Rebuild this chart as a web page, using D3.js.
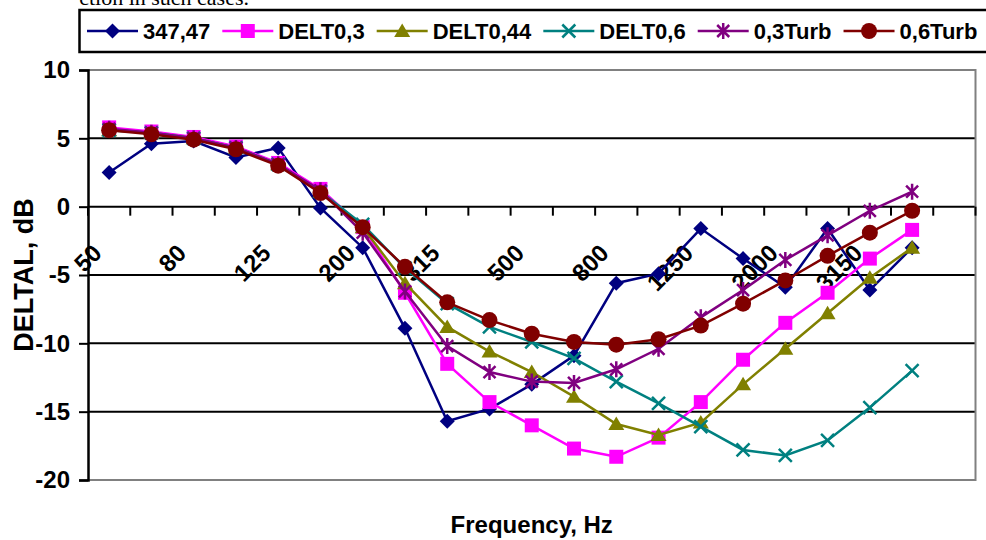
<!DOCTYPE html>
<html>
<head>
<meta charset="utf-8">
<script src="https://cdn.jsdelivr.net/npm/d3@7"></script>
<style>
  body { margin: 0; background: #fff; }
  text { font-family: "Liberation Sans", Arial, sans-serif; font-weight: bold; fill: #000; }
</style>
</head>
<body>
<div id="chartDiv"></div>
<script>
// Third octave bands (last band has no data)
var freqs = ['50', '63', '80', '100', '125', '160', '200', '250', '315', '400', '500',
             '630', '800', '1000', '1250', '1600', '2000', '2500', '3150', '4000', '5000'];
var tickLabels = ['50', '80', '125', '200', '315', '500', '800', '1250', '2000', '3150'];
var yTicks = [-20, -15, -10, -5, 0, 5, 10];

var seriesNames = ['347,47', 'DELT0,3', 'DELT0,44', 'DELT0,6', '0,3Turb', '0,6Turb'];
var s34747 = [2.5, 4.6, 4.8, 3.6, 4.3, -0.1, -3.0, -8.9, -15.7, -14.8, -13.0, -10.9, -5.6, -4.9, -1.6, -3.8, -5.9, -1.6, -6.1, -3.0];
var delt03 = [5.8, 5.5, 5.1, 4.4, 3.2, 1.3, -1.5, -6.3, -11.5, -14.3, -16.0, -17.7, -18.3, -16.9, -14.3, -11.2, -8.5, -6.3, -3.8, -1.7];
var delt044 = [5.6, 5.4, 5.0, 4.3, 3.1, 1.1, -1.5, -5.6, -8.8, -10.6, -12.1, -13.9, -15.9, -16.7, -15.8, -13.0, -10.4, -7.8, -5.2, -3.0];
var delt06 = [5.6, 5.4, 5.0, 4.3, 3.1, 1.1, -1.3, -4.5, -7.1, -8.8, -9.9, -11.1, -12.8, -14.4, -16.1, -17.8, -18.2, -17.1, -14.7, -12.0];
var turb03 = [5.7, 5.4, 5.0, 4.3, 3.1, 1.2, -1.9, -6.2, -10.2, -12.1, -12.8, -12.9, -11.9, -10.4, -8.1, -6.1, -3.9, -2.1, -0.3, 1.1];
var turb06 = [5.6, 5.3, 4.9, 4.2, 3.0, 1.0, -1.5, -4.4, -7.0, -8.3, -9.3, -9.9, -10.1, -9.7, -8.7, -7.1, -5.4, -3.6, -1.9, -0.3];

var colors = ['#000080', '#ff00ff', '#808000', '#008080', '#800080', '#800000'];
var markers = ['diamond', 'square', 'triangle', 'x', 'star', 'circle'];
var allValues = [s34747, delt03, delt044, delt06, turb03, turb06];

var chartWidth = 986;
var chartHeight = 540;
var plotLeft = 88, plotRight = 975.5, plotTop = 70, plotBottom = 480;

var svg = d3.select('#chartDiv')
            .append('svg')
            .attr('width', chartWidth)
            .attr('height', chartHeight);

var x = d3.scaleBand().domain(freqs).range([plotLeft, plotRight]).padding(0);
var y = d3.scaleLinear().domain([-20, 10]).range([plotBottom, plotTop]);
function cx(i) { return x(freqs[i]) + x.bandwidth() / 2; }

// clipped line of document text above the chart
svg.append('text')
   .attr('x', 249).attr('y', 5)
   .attr('text-anchor', 'end')
   .style('font-family', '"Liberation Serif", "Times New Roman", serif')
   .style('font-weight', 'normal')
   .style('font-size', '22px')
   .text('ction in such cases.');

// gridlines
svg.selectAll('.grid')
   .data(yTicks.filter(function(d) { return d > -20 && d < 10; }))
   .enter()
   .append('line')
   .attr('x1', plotLeft).attr('x2', plotRight)
   .attr('y1', function(d) { return y(d); })
   .attr('y2', function(d) { return y(d); })
   .attr('stroke', '#000')
   .attr('stroke-width', 2);

// plot border (top, right, bottom) in grey
svg.append('path')
   .attr('d', 'M' + plotLeft + ',' + y(10) + 'H' + plotRight + 'V' + y(-20) + 'H' + plotLeft)
   .attr('fill', 'none')
   .attr('stroke', '#808080')
   .attr('stroke-width', 2);

// y axis
var yAxis = svg.append('g')
   .attr('transform', 'translate(' + plotLeft + ',0)')
   .call(d3.axisLeft(y).tickValues(yTicks).tickSize(9).tickPadding(9)
           .tickFormat(function(d) { return String(d); }));
yAxis.select('.domain').attr('stroke', '#000').attr('stroke-width', 2.5);
yAxis.selectAll('.tick line').attr('stroke', '#000').attr('stroke-width', 2);
yAxis.selectAll('.tick text')
     .style('font-size', '24px')
     .style('font-family', '"Liberation Sans", Arial, sans-serif')
     .style('font-weight', 'bold')
     .attr('fill', '#000');

// x axis at y = 0, ticks between categories
var y0 = y(0);
var boundaries = freqs.map(function(f) { return x(f); }).concat([x.range()[1]]);
svg.selectAll('.xtick')
   .data(boundaries)
   .enter()
   .append('line')
   .attr('x1', function(d) { return d; }).attr('x2', function(d) { return d; })
   .attr('y1', y0).attr('y2', y0 + 9)
   .attr('stroke', '#000')
   .attr('stroke-width', 2);

svg.selectAll('.xlabel')
   .data(tickLabels)
   .enter()
   .append('text')
   .attr('text-anchor', 'end')
   .style('font-size', '24px')
   .attr('transform', function(d) {
     return 'translate(' + (x(d) + x.bandwidth() / 2 - 6) + ',' + (y0 + 48) + ') rotate(-45)';
   })
   .text(function(d) { return d; });

// axis titles
svg.append('text')
   .attr('text-anchor', 'middle')
   .attr('transform', 'translate(33,' + ((plotTop + plotBottom) / 2) + ') rotate(-90)')
   .style('font-size', '27px')
   .text('DELTAL, dB');

svg.append('text')
   .attr('text-anchor', 'middle')
   .attr('x', (plotLeft + plotRight) / 2)
   .attr('y', 533)
   .style('font-size', '24px')
   .text('Frequency, Hz');

// marker shapes
function markerPath(type) {
  if (type === 'diamond') return 'M0,-7.5L7.5,0L0,7.5L-7.5,0Z';
  if (type === 'square') return 'M-7,-7H7V7H-7Z';
  if (type === 'triangle') return 'M0,-7.5L8,6L-8,6Z';
  if (type === 'x') return 'M-6.5,-6.5L6.5,6.5M-6.5,6.5L6.5,-6.5';
  if (type === 'star') return 'M-6,-6L6,6M-6,6L6,-6M0,-8V8';
  return null;
}

function drawMarker(g, type, color) {
  if (type === 'circle') {
    g.append('circle').attr('r', 8).attr('fill', color);
  } else if (type === 'x' || type === 'star') {
    g.append('path').attr('d', markerPath(type)).attr('fill', 'none')
     .attr('stroke', color).attr('stroke-width', 2.5);
  } else {
    g.append('path').attr('d', markerPath(type)).attr('fill', color);
  }
}

var line = d3.line()
  .x(function(d, i) { return cx(i); })
  .y(function(d) { return y(d); });

allValues.forEach(function(vals, k) {
  var g = svg.append('g');
  g.append('path')
   .datum(vals)
   .attr('d', line)
   .attr('fill', 'none')
   .attr('stroke', colors[k])
   .attr('stroke-width', 2.5);
  vals.forEach(function(v, i) {
    var m = g.append('g').attr('transform', 'translate(' + cx(i) + ',' + y(v) + ')');
    drawMarker(m, markers[k], colors[k]);
  });
});

// legend
var legend = svg.append('g');
legend.append('rect')
      .attr('x', 79.5).attr('y', 10)
      .attr('width', 1000).attr('height', 42)
      .attr('fill', '#fff')
      .attr('stroke', '#000')
      .attr('stroke-width', 2.5);

var lx = 87;
seriesNames.forEach(function(name, k) {
  legend.append('line')
        .attr('x1', lx).attr('x2', lx + 51)
        .attr('y1', 31).attr('y2', 31)
        .attr('stroke', colors[k])
        .attr('stroke-width', 2.5);
  var m = legend.append('g').attr('transform', 'translate(' + (lx + 25.5) + ',31)');
  drawMarker(m, markers[k], colors[k]);
  var t = legend.append('text')
        .attr('x', lx + 56)
        .attr('y', 38.5)
        .style('font-size', '22px')
        .text(name);
  lx = lx + 56 + t.node().getComputedTextLength() + 12;
});
</script>
</body>
</html>
